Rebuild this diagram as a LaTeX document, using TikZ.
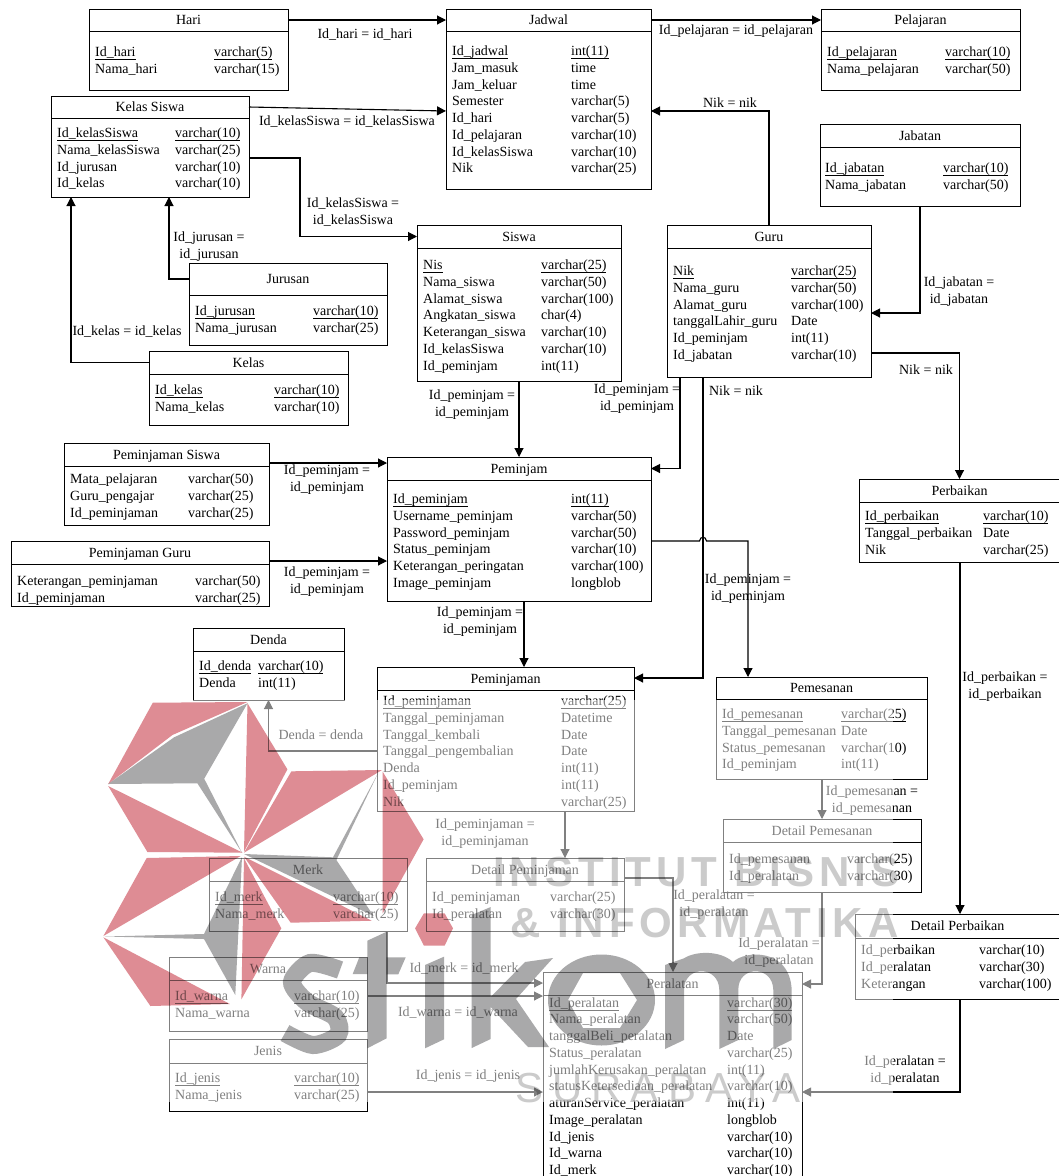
\documentclass[tikz,border=0pt]{standalone}
\usepackage{fontspec}
\setmainfont{Liberation Serif}
\newfontfamily\logofont{Liberation Sans}
\usetikzlibrary{arrows.meta,calc}

\tikzset{
  tblbox/.style={draw, line width=1pt, inner sep=0pt, outer sep=0pt},
  tblhead/.style={inner sep=0pt, outer sep=0pt, text height=10.5pt, text depth=1.5pt, font=\fontsize{14}{17}\selectfont},
  cell/.style={anchor=west, inner sep=0pt, text height=10.5pt, text depth=1.5pt, font=\fontsize{14}{17}\selectfont},
  lbl/.style={align=center, inner sep=0pt, yshift=-1.5pt, font=\fontsize{14}{17}\selectfont},
  fk/.style={line width=1.1pt, -{Triangle[length=9pt,width=9pt]}},
  red mark/.style={fill=markred, draw=none},
  grey mark/.style={fill=markgrey, draw=none},
  capword/.style={inner sep=0pt, anchor=west, text=wordgrey}
}
\definecolor{markred}{HTML}{DE8C94}
\definecolor{markgrey}{HTML}{A9A9AA}
\definecolor{wordgrey}{HTML}{CBCBCB}

\newcommand{\ul}[1]{\underline{\smash{#1}\rule[-1.5pt]{0pt}{0pt}}}
% name, left, top, right, bottom, header line, title
\newcommand{\tbl}[7]{
  \node[tblbox, minimum width={(#4-#2)*1pt}, minimum height={(#5-#3)*1pt}] (#1) at ({(#2+#4)/2},{(#3+#5)/2}) {};
  \node[tblhead, minimum width={(#4-#2)*1pt}] (#1T) at ({(#2+#4)/2},{(#3+#6)/2}) {#7};
  \draw[line width=1pt] (#1.west |- 0,#6) -- (#1.east |- 0,#6);
}
% name, x of column 1, x of column 2, y of first row, rows
\newcommand{\rows}[5]{
  \foreach \a/\b [count=\i from 0] in {#5} {
    \node[cell] (#1a\i) at (#2,{#4+\i*16.75}) {\a};
    \node[cell] (#1b\i) at (#3,{#4+\i*16.75}) {\b};
  }
}

\begin{document}
\begin{tikzpicture}[x=1pt,y=-1pt]
  \useasboundingbox (0,0) rectangle (1059,1176);
  \fill[white] (0,0) rectangle (1059,1176);

  \tbl{hari}{89}{9}{288}{90}{31}{Hari}
  \rows{hari}{95}{214}{52}{\ul{Id\_hari}/\ul{varchar(5)},Nama\_hari/varchar(15)}
  \tbl{jadwal}{446}{9}{651}{189}{31}{Jadwal}
  \rows{jadwal}{452}{571}{51}{\ul{Id\_jadwal}/\ul{int(11)},Jam\_masuk/time,Jam\_keluar/time,Semester/varchar(5),Id\_hari/varchar(5),Id\_pelajaran/varchar(10),Id\_kelasSiswa/varchar(10),Nik/varchar(25)}
  \tbl{pelajaran}{821}{9}{1020}{90}{31}{Pelajaran}
  \rows{pelajaran}{827}{945}{52}{\ul{Id\_pelajaran}/\ul{varchar(10)},Nama\_pelajaran/varchar(50)}
  \tbl{kelasSiswa}{51}{96}{249}{197}{118}{Kelas Siswa}
  \rows{kelasSiswa}{57}{175}{133}{\ul{Id\_kelasSiswa}/\ul{varchar(10)},Nama\_kelasSiswa/varchar(25),Id\_jurusan/varchar(10),Id\_kelas/varchar(10)}
  \tbl{jabatan}{820}{124}{1020}{206}{147}{Jabatan}
  \rows{jabatan}{825}{943}{168}{\ul{Id\_jabatan}/\ul{varchar(10)},Nama\_jabatan/varchar(50)}
  \tbl{jurusan}{189}{263}{387}{345}{295}{Jurusan}
  \rows{jurusan}{195}{313}{311}{\ul{Id\_jurusan}/\ul{varchar(10)},Nama\_jurusan/varchar(25)}
  \tbl{siswa}{417}{225}{621}{381}{248}{Siswa}
  \rows{siswa}{423}{541}{265}{\ul{Nis}/\ul{varchar(25)},Nama\_siswa/varchar(50),Alamat\_siswa/varchar(100),Angkatan\_siswa/char(4),Keterangan\_siswa/varchar(10),Id\_kelasSiswa/varchar(10),Id\_peminjam/int(11)}
  \tbl{guru}{667}{225}{871}{377}{248}{Guru}
  \rows{guru}{673}{791}{271}{\ul{Nik}/\ul{varchar(25)},Nama\_guru/varchar(50),Alamat\_guru/varchar(100),tanggalLahir\_guru/Date,Id\_peminjam/int(11),Id\_jabatan/varchar(10)}
  \tbl{kelas}{149}{351}{348}{425}{374}{Kelas}
  \rows{kelas}{155}{274}{390}{\ul{Id\_kelas}/\ul{varchar(10)},Nama\_kelas/varchar(10)}
  \tbl{pinjamSiswa}{64}{443}{269}{525}{466}{Peminjaman Siswa}
  \rows{pinjamSiswa}{70}{188}{479}{Mata\_pelajaran/varchar(50),Guru\_pengajar/varchar(25),Id\_peminjaman/varchar(25)}
  \tbl{peminjam}{387}{457}{651}{601}{480}{Peminjam}
  \rows{peminjam}{393}{571}{499}{\ul{Id\_peminjam}/\ul{int(11)},Username\_peminjam/varchar(50),Password\_peminjam/varchar(50),Status\_peminjam/varchar(10),Keterangan\_peringatan/varchar(100),Image\_peminjam/longblob}
  \tbl{pinjamGuru}{11}{541}{269}{606}{564}{Peminjaman Guru}
  \rows{pinjamGuru}{17}{195}{581}{Keterangan\_peminjaman/varchar(50),Id\_peminjaman/varchar(25)}
  \tbl{perbaikan}{859}{479}{1060}{562}{502}{Perbaikan}
  \rows{perbaikan}{865}{983}{516}{\ul{Id\_perbaikan}/\ul{varchar(10)},Tanggal\_perbaikan/Date,Nik/varchar(25)}
  \tbl{denda}{193}{628}{344}{700}{651}{Denda}
  \rows{denda}{199}{258}{666}{\ul{Id\_denda}/\ul{varchar(10)},Denda/int(11)}
  \tbl{peminjaman}{377}{667}{634}{811}{690}{Peminjaman}
  \rows{peminjaman}{383}{561}{701}{\ul{Id\_peminjaman}/\ul{varchar(25)},Tanggal\_peminjaman/Datetime,Tanggal\_kembali/Date,Tanggal\_pengembalian/Date,Denda/int(11),Id\_peminjam/int(11),Nik/varchar(25)}
  \tbl{pemesanan}{716}{677}{927}{779}{699}{Pemesanan}
  \rows{pemesanan}{722}{841}{714}{\ul{Id\_pemesanan}/\ul{varchar(25)},Tanggal\_pemesanan/Date,Status\_pemesanan/varchar(10),Id\_peminjam/int(11)}
  \tbl{detailPesan}{723}{819}{921}{892}{842}{Detail Pemesanan}
  \rows{detailPesan}{729}{847}{859}{Id\_pemesanan/varchar(25),Id\_peralatan/varchar(30)}
  \tbl{merk}{209}{858}{407}{931}{881}{Merk}
  \rows{merk}{215}{333}{897}{\ul{Id\_merk}/\ul{varchar(10)},Nama\_merk/varchar(25)}
  \tbl{detailPinjam}{426}{858}{624}{931}{881}{Detail Peminjaman}
  \rows{detailPinjam}{432}{550}{897}{Id\_peminjaman/varchar(25),Id\_peralatan/varchar(30)}
  \tbl{detailBaik}{855}{914}{1060}{999}{938}{Detail Perbaikan}
  \rows{detailBaik}{861}{979}{950}{Id\_perbaikan/varchar(10),Id\_peralatan/varchar(30),Keterangan/varchar(100)}
  \tbl{warna}{169}{957}{367}{1031}{980}{Warna}
  \rows{warna}{175}{294}{996}{\ul{Id\_warna}/\ul{varchar(10)},Nama\_warna/varchar(25)}
  \tbl{jenis}{169}{1039}{367}{1111}{1063}{Jenis}
  \rows{jenis}{175}{294}{1078}{\ul{Id\_jenis}/\ul{varchar(10)},Nama\_jenis/varchar(25)}
  \tbl{peralatan}{543}{972}{802}{1190}{995}{Peralatan}
  \rows{peralatan}{549}{727}{1002.5}{\ul{Id\_peralatan}/\ul{varchar(30)},Nama\_peralatan/varchar(50),tanggalBeli\_peralatan/Date,Status\_peralatan/varchar(25),jumlahKerusakan\_peralatan/int(11),statusKetersediaan\_peralatan/varchar(10),aturanService\_peralatan/int(11),Image\_peralatan/longblob,Id\_jenis/varchar(10),Id\_warna/varchar(10),Id\_merk/varchar(10)}

  \draw[fk] (hariT.east) -- (jadwalT.west);
  \draw[fk] (kelasSiswaT.east) -- (jadwal.west |- 0,111);
  \draw[fk] (kelasSiswa.east |- 0,158) -| (siswaT.west -| 300,0) -- (siswaT.west);
  \draw[fk] (jurusan.west |- 0,279) -| (kelasSiswa.south -| 169,0);
  \draw[fk] (kelasT.west) -| (kelasSiswa.south -| 71,0);
  \draw[fk] (jadwalT.east) -- (pelajaranT.west);
  \draw[fk] (guru.north |- 0,225) |- (jadwal.east |- 0,111);
  \draw[fk] (jabatan.south) |- (guru.east |- 0,313);
  \draw[fk] (guru.east |- 0,353) -| (perbaikan.north);
  \draw[fk] (siswa.south) -- (peminjam.north -| siswa.south);
  \draw[fk] (guru.south -| 680,0) |- (peminjamT.east);
  \draw[fk] (guru.south -| 703,0) |- (peminjaman.east |- 0,678);
  \draw[fk] (peminjam.east |- 0,541) -- (699.5,541) .. controls (700,536) and (706,536) .. (706.5,541) -| (pemesanan.north -| 748,0);
  \draw[fk] (pinjamSiswa.east |- 0,463) -- (peminjam.west |- 0,463);
  \draw[fk] (pinjamGuru.east |- 0,561) -- (peminjam.west |- 0,561);
  \draw[fk] (peminjam.south -| 524,0) -- (peminjaman.north -| 524,0);
  \draw[fk] (peminjaman.west |- 0,751) -| (denda.south);
  \draw[fk] (peminjaman.south -| 565,0) -- (detailPinjam.north -| 565,0);
  \draw[fk] (detailPinjam.east |- 0,878) -| (peralatan.north -| 673,0);
  \draw[fk] (pemesanan.south -| 822,0) -- (detailPesan.north -| 822,0);
  \draw[fk] (detailPesan.south -| 822,0) |- (peralatan.east |- 0,984);
  \draw[fk] (perbaikan.south -| 960,0) -- (detailBaik.north -| 960,0);
  \draw[fk] (detailBaik.south -| 960,0) |- (peralatan.east |- 0,1092);
  \draw[fk] (merk.south -| 387,0) |- (peralatan.west |- 0,983);
  \draw[fk] (warna.east |- 0,996) -- (peralatan.west |- 0,996);
  \draw[fk] (jenis.east |- 0,1092) -- (peralatan.west |- 0,1092);

  \node[lbl] (lHari) at (365,33) {Id\_hari = id\_hari};
  \node[lbl] (lKelasSiswa) at (347,120) {Id\_kelasSiswa = id\_kelasSiswa};
  \node[lbl] (lSiswa) at (353,211) {Id\_kelasSiswa =\\id\_kelasSiswa};
  \node[lbl] (lJurusan) at (209,245) {Id\_jurusan =\\id\_jurusan};
  \node[lbl] (lKelas) at (127,330) {Id\_kelas = id\_kelas};
  \node[lbl] (lPelajaran) at (736,30) {Id\_pelajaran = id\_pelajaran};
  \node[lbl] (lNik) at (730,101) {Nik = nik};
  \node[lbl] (lJabatan) at (959,290) {Id\_jabatan =\\id\_jabatan};
  \node[lbl] (lNikBaik) at (926,368) {Nik = nik};
  \node[lbl] (lPinjamA) at (472,403) {Id\_peminjam =\\id\_peminjam};
  \node[lbl] (lPinjamB) at (637,397) {Id\_peminjam =\\id\_peminjam};
  \node[lbl] (lNikPinjam) at (736,389) {Nik = nik};
  \node[lbl] (lPinjamC) at (748,587) {Id\_peminjam =\\id\_peminjam};
  \node[lbl] (lPinjamD) at (327,478) {Id\_peminjam =\\id\_peminjam};
  \node[lbl] (lPinjamE) at (327,580) {Id\_peminjam =\\id\_peminjam};
  \node[lbl] (lPinjamF) at (480,620) {Id\_peminjam =\\id\_peminjam};
  \node[lbl] (lDenda) at (321,733) {Denda = denda};
  \node[lbl] (lDetailPinjam) at (485,832) {Id\_peminjaman =\\id\_peminjaman};
  \node[lbl] (lAlatA) at (714,903) {Id\_peralatan =\\id\_peralatan};
  \node[lbl] (lPesan) at (872,799) {Id\_pemesanan =\\id\_pemesanan};
  \node[lbl] (lAlatB) at (779,951) {Id\_peralatan =\\id\_peralatan};
  \node[lbl] (lBaik) at (1005,685) {Id\_perbaikan =\\id\_perbaikan};
  \node[lbl] (lAlatC) at (905,1069) {Id\_peralatan =\\id\_peralatan};
  \node[lbl] (lMerk) at (464,967) {Id\_merk = id\_merk};
  \node[lbl] (lWarna) at (458,1011) {Id\_warna = id\_warna};
  \node[lbl] (lJenis) at (468,1075) {Id\_jenis = id\_jenis};

  % pale layer and logo
  \fill[white, opacity=0.5] (100,700) rectangle (893,1102);
  \begin{scope}[blend mode=multiply]
    \fill[red mark] (152.8,702.7) -- (247.5,702) -- (172.4,735) -- (108.2,784) -- cycle;
    \fill[grey mark] (108.2,784) -- (174.1,737.3) -- (247.5,703.3) -- (204.2,778.7) -- (242,852.7) -- (197.4,783.3) -- cycle;
    \fill[red mark] (108.2,786) -- (242.7,852.7) -- (147.4,852) -- cycle;
    \fill[red mark] (247.5,703.3) -- (287.4,769.3) -- (244,851.7) -- cycle;
    \fill[red mark] (291.4,771.3) -- (382,770) -- (244,852.7) -- cycle;
    \fill[grey mark] (244,854) -- (333,857.3) -- (378,773.3) -- (336.4,860) -- (373.6,916) -- cycle;
    \fill[red mark] (244,856.7) -- (371.9,920.7) -- (290.7,922.7) -- cycle;
    \fill[red mark] (382.7,771.7) -- (423.6,839.3) -- (382.7,913.3) -- cycle;
    \fill[red mark] (415.1,928.3) -- (423.9,913.3) -- (444.6,913.3) -- (453,928.3) -- (444.6,945.7) -- (423.9,945.7) -- cycle;
    \fill[red mark] (146.7,858) -- (240.7,856) -- (103.4,936) -- cycle;
    \fill[red mark] (103.4,937.3) -- (229.9,1004) -- (150.4,1006) -- cycle;
    \fill[grey mark] (104.8,936.5) -- (204,934) -- (242,857) -- (235.3,995) -- (204,939) -- cycle;
    \fill[red mark] (244,858.3) -- (281.3,928.3) -- (241.4,999.3) -- cycle;
    % s
    \draw[markgrey, line width=18pt] plot[smooth] coordinates {(340,970) (310,963) (292,982) (307,1002) (335,1017) (338,1035) (313,1045) (285,1033)};
    % t
    \fill[grey mark] (367.3,940.7) -- (386.7,931.7) -- (386.7,957.3) -- (405.7,957.3) -- (398.3,974.3) -- (386.7,974.3) -- (386.7,1038.3) -- (367.3,1048.3) -- (367.3,974) -- (352.7,974) -- (359.3,957.3) -- (367.3,957.3) -- cycle;
    % i
    \fill[grey mark] (425,965) -- (444,956.7) -- (444,1039.3) -- (425,1048.3) -- cycle;
    % k
    \fill[grey mark] (471.7,915) -- (490.7,907) -- (490.7,997) -- (525,962) -- (553,958) -- (516,999) -- (549,1047) -- (528,1047) -- (490.7,1007) -- (490.7,1039) -- (471.7,1048) -- cycle;
    % o
    \fill[grey mark, even odd rule] (601.5,1000) ellipse [x radius=53.5, y radius=45.5] (568,1000) -- (583,973) -- (620,973) -- (637,1000) -- (620,1028) -- (583,1028) -- cycle;
    % m
    \fill[grey mark] (665,965) -- (684,958.3) .. controls (695,951) and (720,950) .. (733,962) .. controls (745,950) and (790,948) .. (791.7,990) -- (791.7,1040) -- (773.3,1049) -- (773.3,990) .. controls (773,965) and (738,965) .. (738.3,990) -- (738.3,1040) -- (719.3,1049) -- (719.3,990) .. controls (719,965) and (684,965) .. (684,990) -- (684,1040) -- (665,1049) -- cycle;
    \node[capword, font={\logofont\bfseries\fontsize{42}{42}\selectfont\addfontfeature{LetterSpace=12}}] (wordA) at (493,872) {INSTITUT BISNIS};
    \node[capword, font={\logofont\bfseries\fontsize{42}{42}\selectfont\addfontfeature{LetterSpace=12}}] (wordB) at (510,923) {\& INFORMATIKA};
    \node[capword, font={\logofont\fontsize{42}{42}\selectfont\addfontfeature{LetterSpace=21.5}}] (wordC) at (515,1088) {SURABAYA};
  \end{scope}
\end{tikzpicture}
\end{document}
